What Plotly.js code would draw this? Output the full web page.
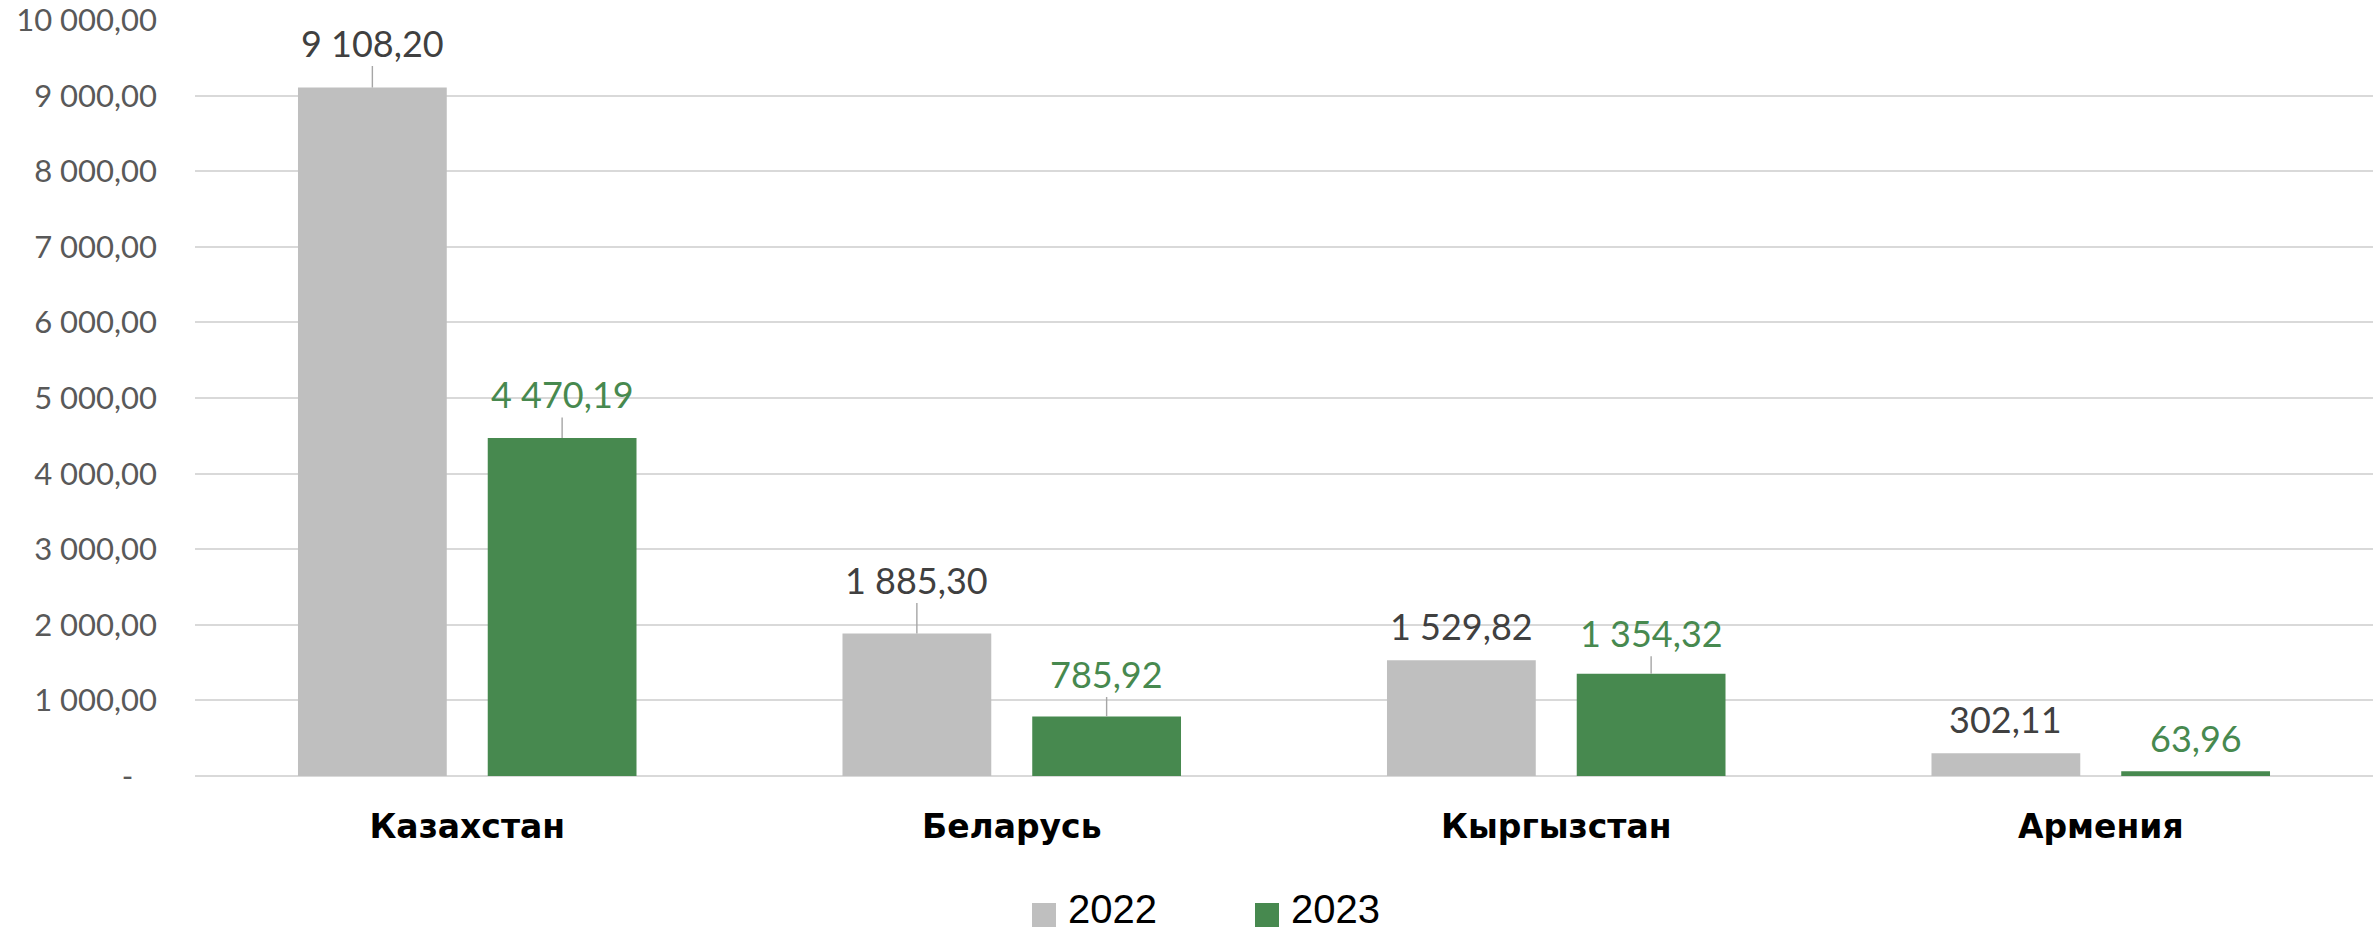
<!DOCTYPE html>
<html>
<head>
<meta charset="utf-8">
<script src="https://cdn.plot.ly/plotly-3.0.1.min.js"></script>
<style>
  html, body { margin: 0; padding: 0; background: #ffffff; }
  #chart { width: 2380px; height: 936px; }
</style>
</head>
<body>
<div id="chart"></div>
<script>
// ---- data ----
const categories = ['Казахстан', 'Беларусь', 'Кыргызстан', 'Армения'];
const seriesNames = ['2022', '2023'];
const values2022 = [9108.20, 1885.30, 1529.82, 302.11];
const values2023 = [4470.19, 785.92, 1354.32, 63.96];
const yTickValues = [0, 1000, 2000, 3000, 4000, 5000, 6000, 7000, 8000, 9000, 10000];

// ---- style ----
const colors = ['#BFBFBF', '#47894F'];
const labelColors = ['#404040', '#47894F'];
const labelLift = [[45, 54, 34, 34], [44, 43, 41, 33]]; // px above bar top
const margin = {l: 195, r: 7, t: 20, b: 160};
const bargap = 0.303, bargroupgap = 0.216;
const W = 2380, H = 936;
const legendSquareLeft = [1032, 1255];   // px, legend layout
const legendSquareSize = 24;
const legendSquareCenterY = 915;
const legendTextCenterY = 909;
const legendTextGap = 11;

function fmt(v) {
  const parts = v.toFixed(2).split('.');
  return parts[0].replace(/\B(?=(\d{3})+(?!\d))/g, ' ') + ',' + parts[1];
}
const yTickText = yTickValues.map(v => v === 0 ? '-\u00a0\u00a0\u00a0' : fmt(v));

const series = [values2022, values2023];
const traces = series.map((vals, s) => ({
  type: 'bar',
  name: seriesNames[s],
  x: categories,
  y: vals,
  marker: {color: colors[s], line: {width: 0}},
  showlegend: false,
  hoverinfo: 'skip'
}));

const plotW = W - margin.l - margin.r;
const plotH = H - margin.t - margin.b;
const px2x = px => (px - margin.l) / plotW;
const px2y = py => (H - margin.b - py) / plotH;

// offsets of each bar within its group, derived from the layout
const catW = plotW / categories.length;
const slot = catW * (1 - bargap) / series.length;
const annotations = [];
series.forEach((vals, s) => {
  const shift = (s - (series.length - 1) / 2) * slot;
  vals.forEach((v, i) => {
    const lift = labelLift[s][i];
    annotations.push({
      x: categories[i], y: v, xref: 'x', yref: 'y',
      xshift: shift,
      text: fmt(v),
      showarrow: true, arrowhead: 0, arrowwidth: 1.4,
      arrowcolor: lift > 38 ? '#A6A6A6' : 'rgba(0,0,0,0)',
      ax: 0, ay: -lift, standoff: 0, startstandoff: 0,
      font: {family: 'Lato, "Open Sans", sans-serif', size: 36, color: labelColors[s]}
    });
  });
});

// custom legend (large square keys)
const shapes = [];
seriesNames.forEach((name, s) => {
  const x0 = legendSquareLeft[s];
  shapes.push({
    type: 'rect', xref: 'paper', yref: 'paper',
    x0: px2x(x0), x1: px2x(x0 + legendSquareSize),
    y0: px2y(legendSquareCenterY + legendSquareSize / 2), y1: px2y(legendSquareCenterY - legendSquareSize / 2),
    fillcolor: colors[s], line: {width: 0}
  });
  annotations.push({
    xref: 'paper', yref: 'paper',
    x: px2x(x0 + legendSquareSize + legendTextGap), y: px2y(legendTextCenterY),
    xanchor: 'left', yanchor: 'middle', showarrow: false, borderpad: 0,
    text: name,
    font: {family: '"Liberation Sans", Arial, sans-serif', size: 40, color: '#000000'}
  });
});

const layout = {
  width: W, height: H,
  margin: margin,
  paper_bgcolor: '#ffffff', plot_bgcolor: '#ffffff',
  barmode: 'group', bargap: bargap, bargroupgap: bargroupgap,
  separators: ', ',
  showlegend: false,
  xaxis: {
    type: 'category',
    showline: false, showgrid: false, zeroline: false,
    ticks: '',
    ticklabelstandoff: 28,
    tickfont: {family: '"DejaVu Sans", sans-serif', size: 33, color: '#000000', weight: 'bold'}
  },
  yaxis: {
    range: [0, 10002],
    tickvals: yTickValues,
    ticktext: yTickText,
    showline: false,
    showgrid: true, gridcolor: '#D9D9D9', gridwidth: 2,
    zeroline: true, zerolinecolor: '#D9D9D9', zerolinewidth: 2,
    ticks: '',
    ticklabelstandoff: 37,
    tickfont: {family: 'Lato, "Open Sans", sans-serif', size: 31, color: '#595959'}
  },
  shapes: shapes,
  annotations: annotations
};

Plotly.newPlot('chart', traces, layout, {staticPlot: true, displayModeBar: false});
</script>
</body>
</html>
